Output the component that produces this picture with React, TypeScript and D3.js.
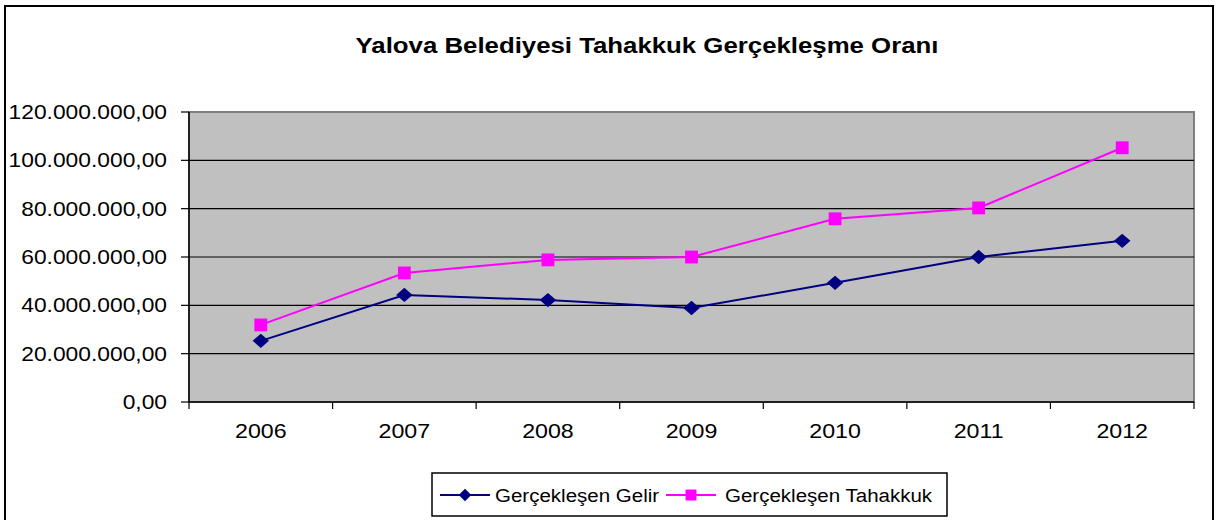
import React, { useEffect, useRef } from 'react';
import * as d3 from 'd3';

const years = ['2006', '2007', '2008', '2009', '2010', '2011', '2012'];
const gelir = [25300000, 44300000, 42200000, 38900000, 49300000, 60000000, 66700000];
const tahakkuk = [31900000, 53400000, 58800000, 60000000, 75800000, 80300000, 105200000];
const yTicks = [0, 20000000, 40000000, 60000000, 80000000, 100000000, 120000000];

const W = 1219;
const H = 520;
const NAVY = '#000080';
const MAGENTA = '#FF00FF';
const FONT = 'Liberation Sans, Arial, sans-serif';

const fmt = (v: number) => {
  const s = Math.round(v).toString().replace(/\B(?=(\d{3})+(?!\d))/g, '.');
  return s + ',00';
};

const App: React.FC = () => {
  const svgRef = useRef<SVGSVGElement>(null);

  useEffect(() => {
    if (!svgRef.current) return;
    const svg = d3.select(svgRef.current);
    svg.selectAll('*').remove();

    const left = 189, right = 1194, top = 112, bottom = 402;

    const x = d3.scaleBand().domain(years).range([left, right]);
    const y = d3.scaleLinear().domain([0, 120000000]).range([bottom, top]);

    // outer frame
    svg.append('rect')
      .attr('x', 5).attr('y', 6).attr('width', 1208).attr('height', 530)
      .attr('fill', '#fff').attr('stroke', '#000').attr('stroke-width', 2);

    // title
    svg.append('text')
      .attr('transform', `translate(647,53) scale(1.2,1)`)
      .attr('text-anchor', 'middle')
      .style('font-family', FONT).style('font-size', '21.5px').style('font-weight', 'bold')
      .text('Yalova Belediyesi  Tahakkuk Gerçekleşme Oranı');

    // plot area
    svg.append('rect')
      .attr('x', left).attr('y', top).attr('width', right - left).attr('height', bottom - top)
      .attr('fill', '#C0C0C0').attr('stroke', '#808080').attr('stroke-width', 2);

    // gridlines
    svg.append('g').selectAll('line').data(yTicks.slice(1, -1)).join('line')
      .attr('x1', left).attr('x2', right)
      .attr('y1', d => y(d)).attr('y2', d => y(d))
      .attr('stroke', '#000').attr('stroke-width', 1.2);

    // y axis
    svg.append('line').attr('x1', left).attr('x2', left).attr('y1', top).attr('y2', bottom)
      .attr('stroke', '#000').attr('stroke-width', 1.5);
    const yt = svg.append('g');
    yt.selectAll('line').data(yTicks).join('line')
      .attr('x1', left - 8).attr('x2', left).attr('y1', d => y(d)).attr('y2', d => y(d))
      .attr('stroke', '#000').attr('stroke-width', 1.2);
    yt.selectAll('text').data(yTicks).join('text')
      .attr('transform', d => `translate(167,${y(d) + 7}) scale(1.14,1)`)
      .attr('text-anchor', 'end')
      .style('font-family', FONT).style('font-size', '20px').style('fill', '#000')
      .text(d => fmt(d));

    // x axis
    svg.append('line').attr('x1', left).attr('x2', right).attr('y1', bottom).attr('y2', bottom)
      .attr('stroke', '#000').attr('stroke-width', 1.5);
    const bounds = years.map(d => x(d) as number).concat([right]);
    svg.append('g').selectAll('line').data(bounds).join('line')
      .attr('x1', d => d).attr('x2', d => d).attr('y1', bottom).attr('y2', bottom + 7)
      .attr('stroke', '#000').attr('stroke-width', 1.2);
    svg.append('g').selectAll('text').data(years).join('text')
      .attr('transform', d => `translate(${(x(d) as number) + x.bandwidth() / 2},438) scale(1.16,1)`)
      .attr('text-anchor', 'middle')
      .style('font-family', FONT).style('font-size', '20px')
      .text(d => d);

    const cx = (i: number) => (x(years[i]) as number) + x.bandwidth() / 2;
    const line = d3.line<number>().x((_, i) => cx(i)).y(d => y(d));

    svg.append('path').datum(gelir).attr('d', line)
      .attr('fill', 'none').attr('stroke', NAVY).attr('stroke-width', 2);
    svg.append('path').datum(tahakkuk).attr('d', line)
      .attr('fill', 'none').attr('stroke', MAGENTA).attr('stroke-width', 2);

    const diamond = d3.symbol().type(d3.symbolDiamond2).size(130);
    const square = d3.symbol().type(d3.symbolSquare).size(165);

    svg.append('g').selectAll('path').data(gelir).join('path')
      .attr('d', diamond as any)
      .attr('transform', (d, i) => `translate(${cx(i)},${y(d)}) scale(1.15,1)`)
      .attr('fill', NAVY);
    svg.append('g').selectAll('path').data(tahakkuk).join('path')
      .attr('d', square as any)
      .attr('transform', (d, i) => `translate(${cx(i)},${y(d)})`)
      .attr('fill', MAGENTA);

    // legend
    const lg = svg.append('g');
    lg.append('rect').attr('x', 432).attr('y', 473).attr('width', 515).attr('height', 43)
      .attr('fill', '#fff').attr('stroke', '#000').attr('stroke-width', 1.5);
    const ly = 495;
    const items = [
      { label: 'Gerçekleşen Gelir', color: NAVY, sym: d3.symbol().type(d3.symbolDiamond2).size(100), x0: 440, tx: 495 },
      { label: 'Gerçekleşen Tahakkuk', color: MAGENTA, sym: d3.symbol().type(d3.symbolSquare).size(120), x0: 666, tx: 725 },
    ];
    items.forEach(it => {
      lg.append('line').attr('x1', it.x0).attr('x2', it.x0 + 50).attr('y1', ly).attr('y2', ly)
        .attr('stroke', it.color).attr('stroke-width', 2);
      lg.append('path').attr('d', it.sym as any)
        .attr('transform', `translate(${it.x0 + 25},${ly})`).attr('fill', it.color);
      lg.append('text')
        .attr('transform', `translate(${it.tx},${ly + 7}) scale(1.08,1)`)
        .style('font-family', FONT).style('font-size', '19px')
        .text(it.label);
    });
  }, []);

  return (
    <div style={{ position: 'fixed', left: 0, top: 0, background: '#fff' }}>
      <svg ref={svgRef} width={W} height={H} style={{ display: 'block' }} />
    </div>
  );
};

export default App;
